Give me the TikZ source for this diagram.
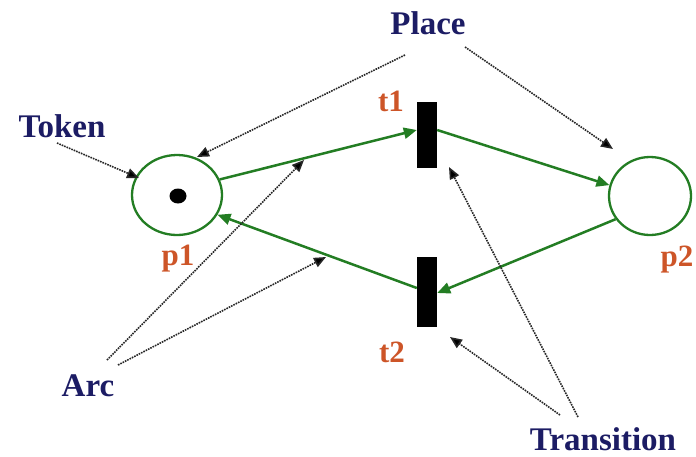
\documentclass[tikz,border=0pt]{standalone}
\usepackage{fontspec}
\setmainfont{Liberation Serif}
\usetikzlibrary{arrows.meta,shapes.geometric}
\definecolor{navy}{RGB}{28,28,100}
\definecolor{rust}{RGB}{205,85,40}
\definecolor{netgreen}{RGB}{35,125,35}
\tikzset{
  place/.style={ellipse,draw=netgreen,line width=2.3pt,inner sep=0pt},
  trans/.style={rectangle,fill=black,inner sep=0pt,minimum width=20pt},
  tokendot/.style={ellipse,fill=black,inner sep=0pt,minimum width=17pt,minimum height=15pt},
  nlabel/.style={text=rust,font=\fontsize{31}{31}\selectfont\bfseries,inner sep=0pt},
  alabel/.style={text=navy,font=\fontsize{33}{33}\selectfont\bfseries,inner sep=0pt},
  arc/.style={draw=netgreen,line width=2.5pt,-{Triangle[length=13pt,width=11pt]}},
  pointer/.style={draw=black!85,line width=1.6pt,densely dotted,-{Triangle[length=12pt,width=10pt,fill=black]}}
}
\begin{document}
\begin{tikzpicture}[x=1pt,y=-1pt]
\useasboundingbox (0,0) rectangle (696,456);
% places and transitions
\node[place,minimum width=90pt,minimum height=80pt] (p1) at (177,195) {};
\node[place,minimum width=82pt,minimum height=78pt] (p2) at (650,196) {};
\node[tokendot] (tok) at (178,196) {};
\node[trans,minimum height=66pt] (t1) at (427,135) {};
\node[trans,minimum height=70pt] (t2) at (427,292) {};
% labels
\node[nlabel] (lt1) at (391,101) {t1};
\node[nlabel] (lt2) at (392,352) {t2};
\node[nlabel] (lp1) at (178,259) {p1};
\node[nlabel] (lp2) at (677,260) {p2};
\node[alabel] (token) at (62,126) {Token};
\node[alabel] (place) at (428,23) {Place};
\node[alabel] (arclab) at (88,386) {Arc};
\node[alabel] (transl) at (603,439) {Transition};
% arcs
\draw[arc] (p1.20) -- ([yshift=5pt]t1.west);
\draw[arc] ([yshift=5pt]t1.east) -- (p2.165);
\draw[arc] (p2.214) -- ([yshift=-1pt]t2.east);
\draw[arc] ([yshift=4pt]t2.west) -- (p1.334);
% pointer coordinates
\coordinate (tokS) at (57,143);
\coordinate (tokE) at (139,178);
\coordinate (plS1) at (405,55);
\coordinate (plE1) at (197,157);
\coordinate (plS2) at (465,47);
\coordinate (plE2) at (613,149);
\coordinate (arS1) at (107,360);
\coordinate (arE1) at (304,160);
\coordinate (arS2) at (118,365);
\coordinate (arE2) at (326,257);
\coordinate (trS1) at (578,417);
\coordinate (trE1) at (449,167);
\coordinate (trS2) at (560,415);
\coordinate (trE2) at (450,337);
% pointers
\draw[pointer] (tokS) -- (tokE);
\draw[pointer] (plS1) -- (plE1);
\draw[pointer] (plS2) -- (plE2);
\draw[pointer] (arS1) -- (arE1);
\draw[pointer] (arS2) -- (arE2);
\draw[pointer] (trS1) -- (trE1);
\draw[pointer] (trS2) -- (trE2);
\end{tikzpicture}
\end{document}
